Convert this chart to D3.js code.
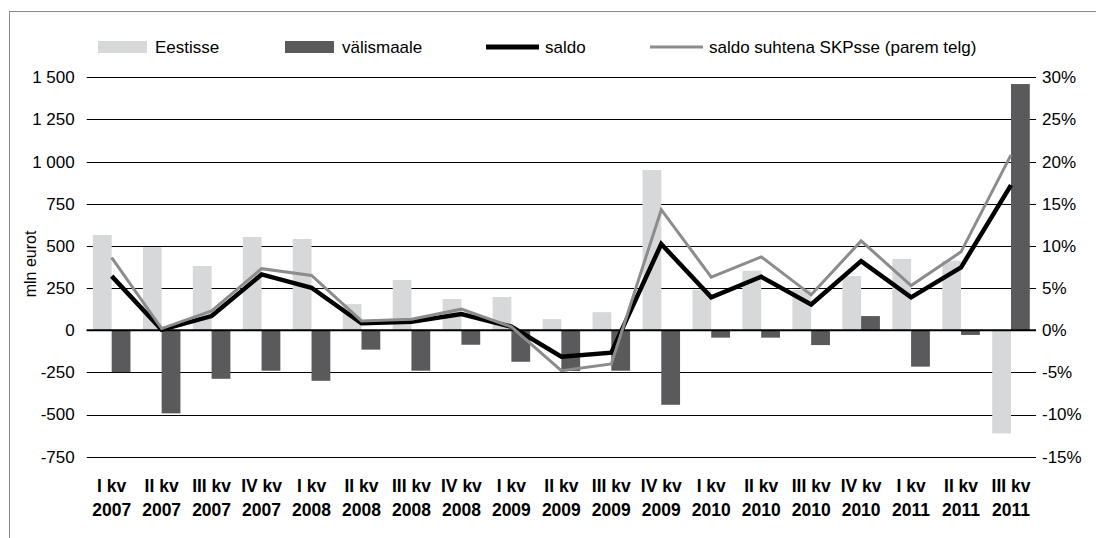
<!DOCTYPE html>
<html>
<head>
<meta charset="utf-8">
<script src="https://cdn.jsdelivr.net/npm/d3@7"></script>
<style>
  body { margin: 0; background: #fff; }
  text { font-family: "Liberation Sans", Arial, sans-serif; fill: #000; }
</style>
</head>
<body>
<div id="chart"></div>
<script>
// quarters (label split into two lines at the last space)
var categories = ["I kv 2007", "II kv 2007", "III kv 2007", "IV kv 2007",
    "I kv 2008", "II kv 2008", "III kv 2008", "IV kv 2008",
    "I kv 2009", "II kv 2009", "III kv 2009", "IV kv 2009",
    "I kv 2010", "II kv 2010", "III kv 2010", "IV kv 2010",
    "I kv 2011", "II kv 2011", "III kv 2011"];

// mln eurot
var eestisse = [565, 493, 381, 553, 541, 155, 298, 185, 197, 66, 107, 950, 240, 353, 240, 321, 423, 412, -612];
var valismaale = [-248, -493, -288, -240, -300, -115, -240, -86, -187, -242, -240, -442, -44, -44, -88, 84, -216, -28, 1460];
var saldo = [321, 3, 84, 331, 252, 41, 50, 96, 21, -157, -133, 511, 195, 317, 153, 410, 195, 373, 861];
// % of GDP (right axis)
var saldoPct = [8.6, 0.2, 2.3, 7.3, 6.5, 1.1, 1.3, 2.5, 0.4, -4.8, -4.0, 14.3, 6.3, 8.7, 4.2, 10.6, 5.3, 9.3, 20.8];

var leftTicks = [-750, -500, -250, 0, 250, 500, 750, 1000, 1250, 1500];
var rightTicks = [-15, -10, -5, 0, 5, 10, 15, 20, 25, 30];

var legendItems = [
    {name: "Eestisse", type: "bar", color: "#d7d8da"},
    {name: "välismaale", type: "bar", color: "#5a5a5c"},
    {name: "saldo", type: "line", color: "#000000"},
    {name: "saldo suhtena SKPsse (parem telg)", type: "line", color: "#8c8c8c"}
];

var width = 1096, height = 538;
var plotLeft = 86.7, plotRight = 1036, plotTop = 77.3, plotBottom = 456.7;

var svg = d3.select("#chart").append("svg")
    .attr("width", width)
    .attr("height", height);

// frame
svg.append("rect")
    .attr("x", 9.5).attr("y", 11.5)
    .attr("width", 1200).attr("height", 700)
    .attr("fill", "none")
    .attr("stroke", "#8a8a8a");

var x = d3.scaleBand().domain(categories).range([plotLeft, plotRight]).padding(0);
var x1 = d3.scaleBand().domain(["Eestisse", "välismaale"]).range([0, x.bandwidth()]).paddingOuter(0.33);
var y = d3.scaleLinear().domain([-750, 1500]).range([plotBottom, plotTop]);
var yR = d3.scaleLinear().domain([-15, 30]).range([plotBottom, plotTop]);

var fmt = d3.formatLocale({decimal: ",", thousands: " ", grouping: [3], currency: ["", ""], minus: "-"}).format(",d");

// gridlines
svg.append("g").selectAll("line")
    .data(leftTicks)
    .enter().append("line")
    .attr("x1", plotLeft).attr("x2", plotRight)
    .attr("y1", function(d) { return Math.round(y(d)) + 0.5; })
    .attr("y2", function(d) { return Math.round(y(d)) + 0.5; })
    .attr("stroke", "#000")
    .attr("stroke-width", 1);

// axes labels
var yAxis = d3.axisLeft(y).tickValues(leftTicks).tickSize(0).tickPadding(12).tickFormat(fmt);
var gl = svg.append("g").attr("transform", "translate(" + plotLeft + ",0)").call(yAxis);
gl.select(".domain").remove();
gl.selectAll("text").attr("font-size", "17px").attr("font-family", "Liberation Sans, Arial, sans-serif");

var yAxisR = d3.axisRight(yR).tickValues(rightTicks).tickSize(0).tickPadding(6)
    .tickFormat(function(d) { return d + "%"; });
var gr = svg.append("g").attr("transform", "translate(" + plotRight + ",0)").call(yAxisR);
gr.select(".domain").remove();
gr.selectAll("text").attr("font-size", "17px").attr("font-family", "Liberation Sans, Arial, sans-serif");

// bars
var barData = [];
categories.forEach(function(c, i) {
    barData.push({cat: c, key: "Eestisse", value: eestisse[i], color: legendItems[0].color});
    barData.push({cat: c, key: "välismaale", value: valismaale[i], color: legendItems[1].color});
});

svg.append("g").selectAll("rect")
    .data(barData)
    .enter().append("rect")
    .attr("x", function(d) { return x(d.cat) + x1(d.key); })
    .attr("width", x1.bandwidth())
    .attr("y", function(d) { return y(Math.max(0, d.value)); })
    .attr("height", function(d) { return Math.abs(y(d.value) - y(0)); })
    .attr("fill", function(d) { return d.color; });

// zero line
svg.append("line")
    .attr("x1", plotLeft).attr("x2", plotRight)
    .attr("y1", y(0)).attr("y2", y(0))
    .attr("stroke", "#000")
    .attr("stroke-width", 2);

// lines
var cx = function(i) { return x(categories[i]) + x.bandwidth() / 2; };

var saldoLine = d3.line()
    .x(function(d, i) { return cx(i); })
    .y(function(d) { return y(d); });

var pctLine = d3.line()
    .x(function(d, i) { return cx(i); })
    .y(function(d) { return yR(d); });

svg.append("path")
    .attr("d", saldoLine(saldo))
    .attr("fill", "none")
    .attr("stroke", "#000")
    .attr("stroke-width", 4.5);

svg.append("path")
    .attr("d", pctLine(saldoPct))
    .attr("fill", "none")
    .attr("stroke", "#8c8c8c")
    .attr("stroke-width", 3);

// x labels
var xl = svg.append("g").selectAll("text")
    .data(categories)
    .enter().append("text")
    .attr("text-anchor", "middle")
    .attr("font-size", "17.5px")
    .attr("font-weight", "bold");

xl.append("tspan")
    .attr("x", function(d, i) { return cx(i); })
    .attr("y", 492)
    .text(function(d) { return d.slice(0, d.lastIndexOf(" ")); });
xl.append("tspan")
    .attr("x", function(d, i) { return cx(i); })
    .attr("y", 516)
    .text(function(d) { return d.slice(d.lastIndexOf(" ") + 1); });

// y title
svg.append("text")
    .attr("text-anchor", "middle")
    .attr("transform", "translate(36,264)rotate(-90)")
    .attr("font-size", "16px")
    .text("mln eurot");

// legend
var legendX = [98, 285, 486, 650];
var lg = svg.append("g").selectAll("g")
    .data(legendItems)
    .enter().append("g")
    .attr("transform", function(d, i) { return "translate(" + legendX[i] + ",47)"; });

lg.each(function(d) {
    var g = d3.select(this);
    if (d.type === "bar") {
        g.append("rect").attr("x", 0).attr("y", -6).attr("width", 49).attr("height", 12).attr("fill", d.color);
        g.append("text").attr("x", 57).attr("y", 6).attr("font-size", "17px").text(d.name);
    } else {
        g.append("line").attr("x1", 0).attr("x2", 53).attr("y1", 0).attr("y2", 0)
            .attr("stroke", d.color).attr("stroke-width", d.color === "#000000" ? 5 : 3);
        g.append("text").attr("x", 59).attr("y", 6).attr("font-size", "17px").text(d.name);
    }
});
</script>
</body>
</html>
